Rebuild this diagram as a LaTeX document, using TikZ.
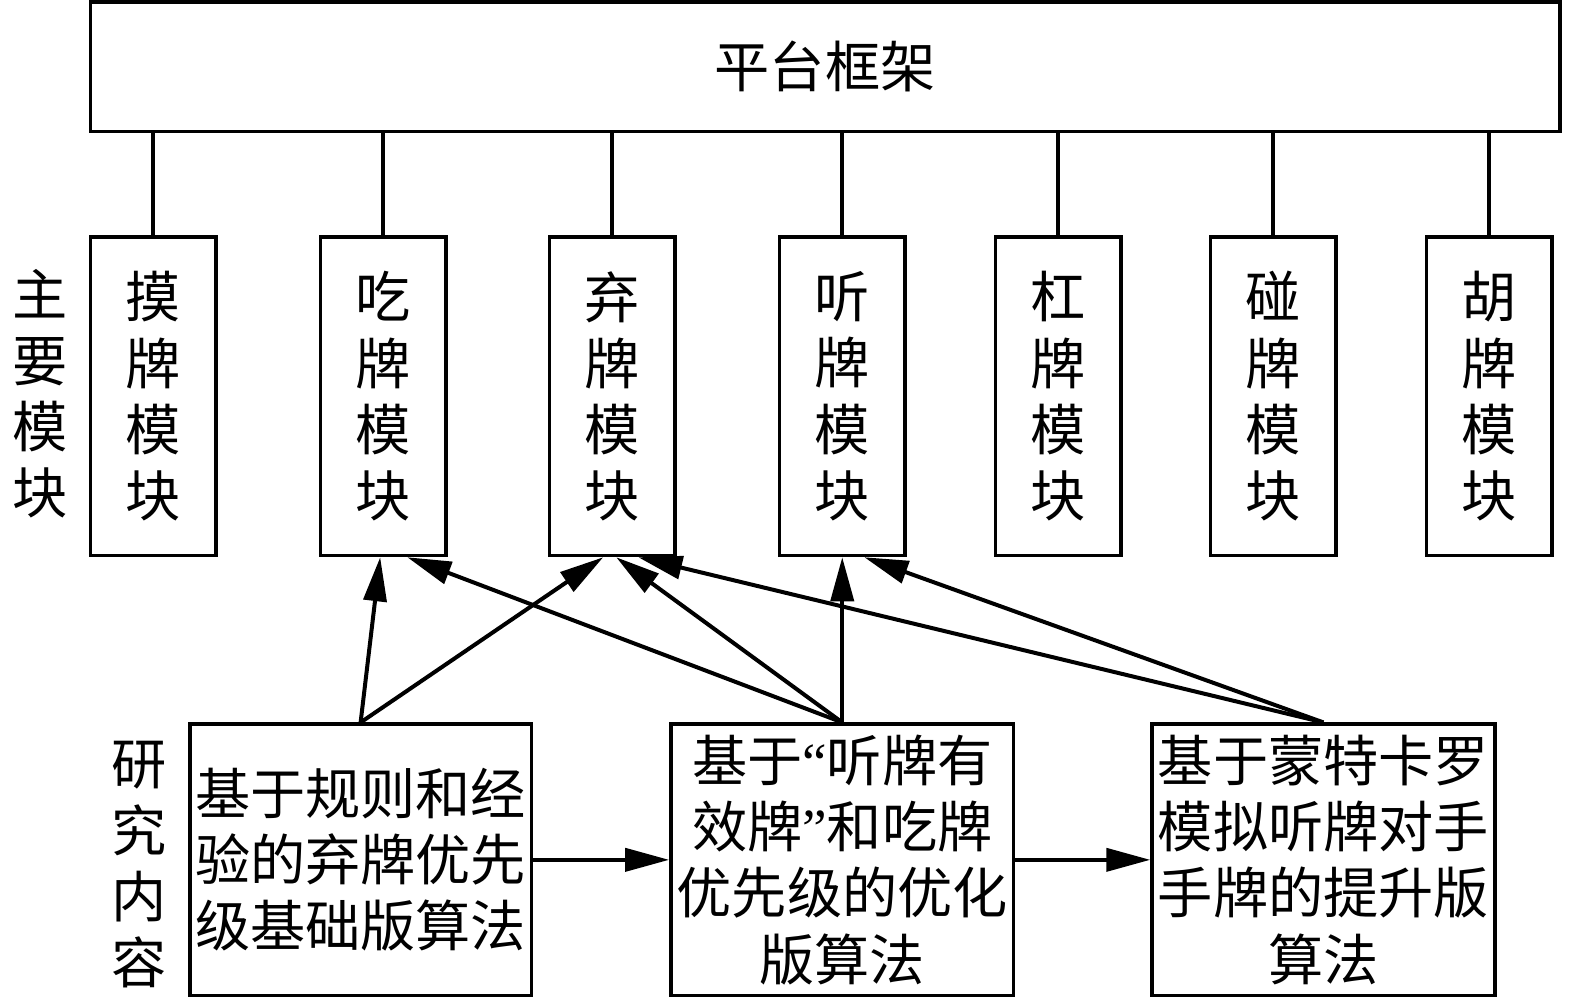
\documentclass[tikz,border=0pt]{standalone}
\usepackage{fontspec}
\setmainfont{Noto Sans CJK SC}
\newfontfamily\latinq{Liberation Serif}
\usetikzlibrary{arrows.meta,calc}
\begin{document}
\begin{tikzpicture}[x=0.50223bp,y=-0.50223bp, line width=1.8bp,
  box/.style={draw, inner sep=0pt, align=center, font=\fontsize{27.7}{33.25}\selectfont},
  modbox/.style={box, minimum width=62.8bp, minimum height=159.2bp},
  resbox/.style={box, minimum width=171.3bp, minimum height=135.6bp},
  lbl/.style={align=center, inner sep=0pt, font=\fontsize{27.7}{33.25}\selectfont},
  arr/.style={line width=2bp, -{Triangle[length=22bp,width=11.5bp]}}]
\useasboundingbox (0,0) rectangle (1568,993.6);
\node[box, minimum width=734.8bp, minimum height=64.8bp] (top) at (821.5,66.5) {平台框架};
\foreach \n/\c/\x in {mo/摸/152.5, chi/吃/381.5, qi/弃/609.5, ting/听/838.5, gang/杠/1053.5, peng/碰/1267.5, hu/胡/1482.5}{
  \node[modbox] (\n) at (\x,394.5) {\c\\牌\\模\\块};
  \draw (\n.north) -- (\n.north |- top.south);
}
\node[lbl] (zy) at (40,392) {主\\要\\模\\块};
\node[lbl] (yj) at (138,861) {研\\究\\内\\容};
\node[resbox, minimum width=170.8bp] (b1) at (359,856) {基于规则和经\\验的弃牌优先\\级基础版算法};
\node[resbox] (b2) at (838.5,856) {基于{\latinq “}听牌有\\效牌{\latinq ”}和吃牌\\优先级的优化\\版算法};
\node[resbox] (b3) at (1317.5,856) {基于蒙特卡罗\\模拟听牌对手\\手牌的提升版\\算法};
\draw[arr] (b1.east) -- (b2.west);
\draw[arr] (b2.east) -- (b3.west);
\coordinate (chiA) at ($(chi.south)+(-3,0)$);
\coordinate (chiB) at ($(chi.south)+(24,0)$);
\coordinate (qiA) at ($(qi.south)+(-9,0)$);
\coordinate (qiB) at ($(qi.south)+(4,0)$);
\coordinate (qiC) at ($(qi.south)+(26,0)$);
\coordinate (tingB) at ($(ting.south)+(22,0)$);
\draw[arr] (b1.north) -- (chiA);
\draw[arr] (b1.north) -- (qiA);
\draw[arr] (b2.north) -- (chiB);
\draw[arr] (b2.north) -- (qiB);
\draw[arr] (b2.north) -- (ting.south);
\draw[arr] (b3.north) -- (qiC);
\draw[arr] (b3.north) -- (tingB);
\end{tikzpicture}
\end{document}
